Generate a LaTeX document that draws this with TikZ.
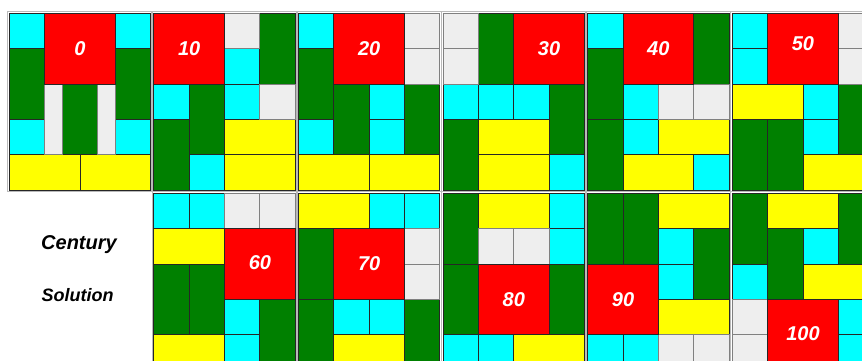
\documentclass[tikz,border=0pt]{standalone}
\usepackage{fontspec}
\setmainfont{Liberation Sans}
\usepackage{tikz}
\usepackage{xcolor}
\definecolor{gapgray}{RGB}{238,238,238}
\definecolor{pcyan}{RGB}{0,255,255}
\definecolor{pred}{RGB}{255,0,0}
\definecolor{pgreen}{RGB}{0,128,0}
\definecolor{pyellow}{RGB}{255,255,0}
\tikzset{
  cell/.style={draw=black!85, line width=0.8pt},
  sq/.style={cell, fill=pcyan},
  big/.style={cell, fill=pred},
  vert/.style={cell, fill=pgreen},
  horz/.style={cell, fill=pyellow},
  hole/.style={draw=gray, line width=0.8pt, fill=gapgray},
  frame/.style={draw=gray!55, line width=1.2pt},
  movelabel/.style={text=white, font=\fontsize{20}{24}\selectfont\bfseries\itshape},
  titletext/.style={text=black, font=\bfseries\itshape}
}

\begin{document}
\begin{tikzpicture}[x=35.33pt, y=-35.33pt]
  \clip (0,0) rectangle (24.399,10.218);
  \fill[white] (0,0) rectangle (24.399,10.218);
  % title
  \node[titletext, font=\fontsize{20}{24}\selectfont\bfseries\itshape] (century) at (2.236,6.935) {Century};
  \node[titletext, font=\fontsize{18}{22}\selectfont\bfseries\itshape] (solution) at (2.199,8.35) {Solution};

  % move 0
  \begin{scope}[shift={(0.263,0.376)}]
    \foreach \c/\r in {0/0,3/0,0/3,3/3} \draw[sq] (\c,\r) rectangle ++(1,1);
    \foreach \c/\r in {0/1,3/1,1.5/2} \draw[vert] (\c,\r) rectangle ++(1,2);
    \foreach \c/\r in {0/4,2/4} \draw[horz] (\c,\r) rectangle ++(2,1);
    \foreach \c in {1,2.5} \draw[hole] (\c,2) rectangle ++(0.5,2);
    \draw[big] (1,0) rectangle ++(2,2);
    \node[movelabel] (m0) at (2,1) {0};
    \draw[frame] (-0.04,-0.04) rectangle (4.04,5.04);
  \end{scope}
  % move 10
  \begin{scope}[shift={(4.356,0.376)}]
    \foreach \c/\r in {2/1,0/2,2/2,1/4} \draw[sq] (\c,\r) rectangle ++(1,1);
    \foreach \c/\r in {3/0,1/2,0/3} \draw[vert] (\c,\r) rectangle ++(1,2);
    \foreach \c/\r in {2/3,2/4} \draw[horz] (\c,\r) rectangle ++(2,1);
    \foreach \c/\r in {2/0,3/2} \draw[hole] (\c,\r) rectangle ++(1,1);
    \draw[big] (0,0) rectangle ++(2,2);
    \node[movelabel] (m10) at (1,1) {10};
    \draw[frame] (-0.04,-0.04) rectangle (4.04,5.04);
  \end{scope}
  % move 20
  \begin{scope}[shift={(8.449,0.376)}]
    \foreach \c/\r in {0/0,2/2,0/3,2/3} \draw[sq] (\c,\r) rectangle ++(1,1);
    \foreach \c/\r in {0/1,1/2,3/2} \draw[vert] (\c,\r) rectangle ++(1,2);
    \foreach \c/\r in {0/4,2/4} \draw[horz] (\c,\r) rectangle ++(2,1);
    \foreach \c/\r in {3/0,3/1} \draw[hole] (\c,\r) rectangle ++(1,1);
    \draw[big] (1,0) rectangle ++(2,2);
    \node[movelabel] (m20) at (2,1) {20};
    \draw[frame] (-0.04,-0.04) rectangle (4.04,5.04);
  \end{scope}
  % move 30
  \begin{scope}[shift={(12.542,0.376)}]
    \foreach \c/\r in {0/2,1/2,2/2,3/4} \draw[sq] (\c,\r) rectangle ++(1,1);
    \foreach \c/\r in {1/0,3/2,0/3} \draw[vert] (\c,\r) rectangle ++(1,2);
    \foreach \c/\r in {1/3,1/4} \draw[horz] (\c,\r) rectangle ++(2,1);
    \foreach \c/\r in {0/0,0/1} \draw[hole] (\c,\r) rectangle ++(1,1);
    \draw[big] (2,0) rectangle ++(2,2);
    \node[movelabel] (m30) at (3,1) {30};
    \draw[frame] (-0.04,-0.04) rectangle (4.04,5.04);
  \end{scope}
  % move 40
  \begin{scope}[shift={(16.635,0.376)}]
    \foreach \c/\r in {0/0,1/2,1/3,3/4} \draw[sq] (\c,\r) rectangle ++(1,1);
    \foreach \c/\r in {3/0,0/1,0/3} \draw[vert] (\c,\r) rectangle ++(1,2);
    \foreach \c/\r in {2/3,1/4} \draw[horz] (\c,\r) rectangle ++(2,1);
    \foreach \c/\r in {2/2,3/2} \draw[hole] (\c,\r) rectangle ++(1,1);
    \draw[big] (1,0) rectangle ++(2,2);
    \node[movelabel] (m40) at (2,1) {40};
    \draw[frame] (-0.04,-0.04) rectangle (4.04,5.04);
  \end{scope}
  % move 50
  \begin{scope}[shift={(20.728,0.376)}]
    \foreach \c/\r in {0/0,0/1,2/2,2/3} \draw[sq] (\c,\r) rectangle ++(1,1);
    \foreach \c/\r in {3/2,0/3,1/3} \draw[vert] (\c,\r) rectangle ++(1,2);
    \foreach \c/\r in {0/2,2/4} \draw[horz] (\c,\r) rectangle ++(2,1);
    \foreach \c/\r in {3/0,3/1} \draw[hole] (\c,\r) rectangle ++(1,1);
    \draw[big] (1,0) rectangle ++(2,2);
    \node[movelabel] (m50) at (2,0.86) {50};
    \draw[frame] (-0.04,-0.04) rectangle (4.04,5.04);
  \end{scope}

  % move 60
  \begin{scope}[shift={(4.356,5.471)}]
    \foreach \c/\r in {0/0,1/0,2/3,2/4} \draw[sq] (\c,\r) rectangle ++(1,1);
    \foreach \c/\r in {0/2,1/2,3/3} \draw[vert] (\c,\r) rectangle ++(1,2);
    \foreach \c/\r in {0/1,0/4} \draw[horz] (\c,\r) rectangle ++(2,1);
    \foreach \c/\r in {2/0,3/0} \draw[hole] (\c,\r) rectangle ++(1,1);
    \draw[big] (2,1) rectangle ++(2,2);
    \node[movelabel] (m60) at (3,1.95) {60};
    \draw[frame] (-0.04,-0.04) rectangle (4.04,5.04);
  \end{scope}
  % move 70
  \begin{scope}[shift={(8.449,5.471)}]
    \foreach \c/\r in {2/0,3/0,1/3,2/3} \draw[sq] (\c,\r) rectangle ++(1,1);
    \foreach \c/\r in {0/1,0/3,3/3} \draw[vert] (\c,\r) rectangle ++(1,2);
    \foreach \c/\r in {0/0,1/4} \draw[horz] (\c,\r) rectangle ++(2,1);
    \foreach \c/\r in {3/1,3/2} \draw[hole] (\c,\r) rectangle ++(1,1);
    \draw[big] (1,1) rectangle ++(2,2);
    \node[movelabel] (m70) at (2,2) {70};
    \draw[frame] (-0.04,-0.04) rectangle (4.04,5.04);
  \end{scope}
  % move 80
  \begin{scope}[shift={(12.542,5.471)}]
    \foreach \c/\r in {3/0,3/1,0/4,1/4} \draw[sq] (\c,\r) rectangle ++(1,1);
    \foreach \c/\r in {0/0,0/2,3/2} \draw[vert] (\c,\r) rectangle ++(1,2);
    \foreach \c/\r in {1/0,2/4} \draw[horz] (\c,\r) rectangle ++(2,1);
    \foreach \c/\r in {1/1,2/1} \draw[hole] (\c,\r) rectangle ++(1,1);
    \draw[big] (1,2) rectangle ++(2,2);
    \node[movelabel] (m80) at (2,3) {80};
    \draw[frame] (-0.04,-0.04) rectangle (4.04,5.04);
  \end{scope}
  % move 90
  \begin{scope}[shift={(16.635,5.471)}]
    \foreach \c/\r in {2/1,2/2,0/4,1/4} \draw[sq] (\c,\r) rectangle ++(1,1);
    \foreach \c/\r in {0/0,1/0,3/1} \draw[vert] (\c,\r) rectangle ++(1,2);
    \foreach \c/\r in {2/0,2/3} \draw[horz] (\c,\r) rectangle ++(2,1);
    \foreach \c/\r in {2/4,3/4} \draw[hole] (\c,\r) rectangle ++(1,1);
    \draw[big] (0,2) rectangle ++(2,2);
    \node[movelabel] (m90) at (1,3) {90};
    \draw[frame] (-0.04,-0.04) rectangle (4.04,5.04);
  \end{scope}
  % move 100 (solved)
  \begin{scope}[shift={(20.728,5.471)}]
    \foreach \c/\r in {2/1,0/2,3/3,3/4} \draw[sq] (\c,\r) rectangle ++(1,1);
    \foreach \c/\r in {0/0,3/0,1/1} \draw[vert] (\c,\r) rectangle ++(1,2);
    \foreach \c/\r in {1/0,2/2} \draw[horz] (\c,\r) rectangle ++(2,1);
    \foreach \c/\r in {0/3,0/4} \draw[hole] (\c,\r) rectangle ++(1,1);
    \draw[big] (1,3) rectangle ++(2,2);
    \node[movelabel] (m100) at (2,3.96) {100};
    \draw[frame] (-0.04,-0.04) rectangle (4.04,5.04);
  \end{scope}
\end{tikzpicture}
\end{document}
